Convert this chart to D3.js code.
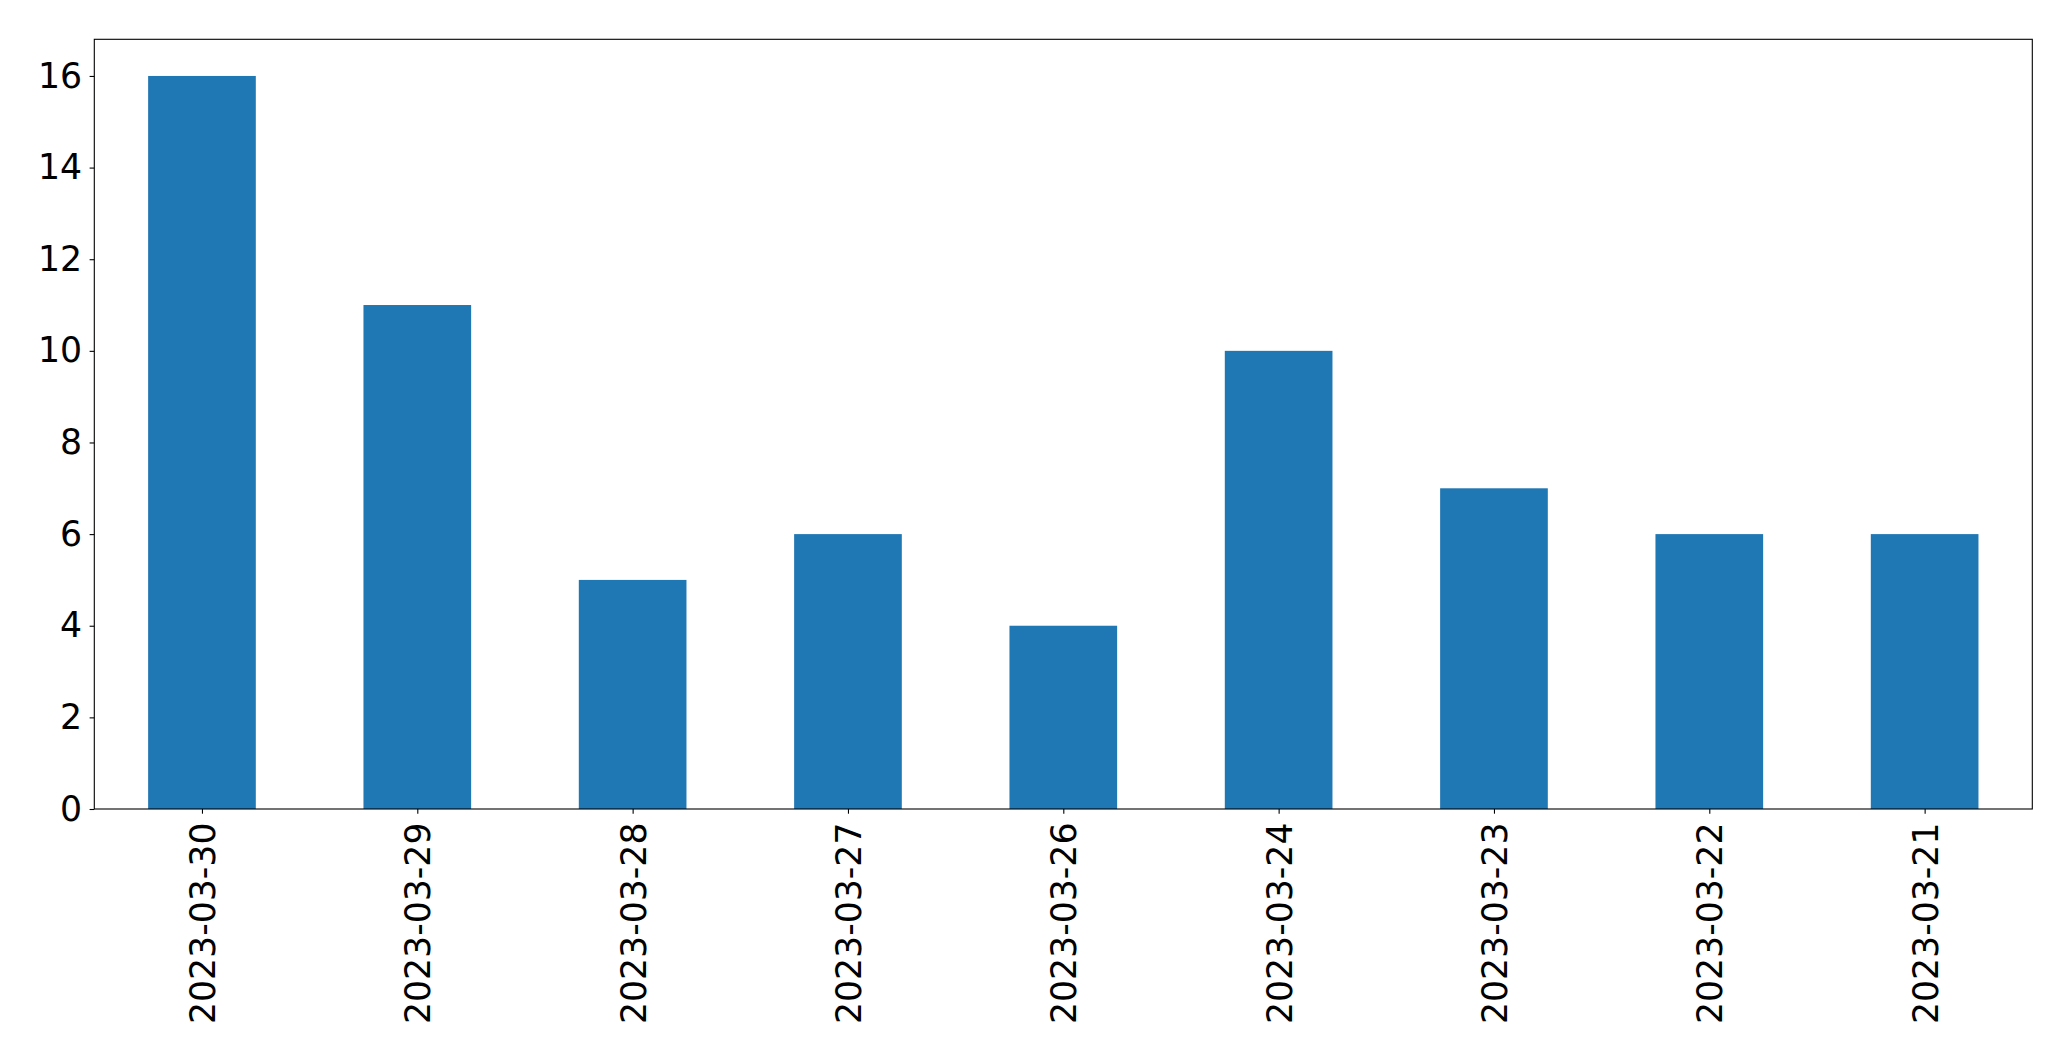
<!DOCTYPE html>
<html>
<head>
<meta charset="utf-8">
<script src="https://cdn.jsdelivr.net/npm/d3@7"></script>
<style>
html,body{margin:0;padding:0;background:#fff;}
svg{display:block;}
</style>
</head>
<body>
<script>
const categories = ["2023-03-30","2023-03-29","2023-03-28","2023-03-27","2023-03-26","2023-03-24","2023-03-23","2023-03-22","2023-03-21"];
const values = [16, 11, 5, 6, 4, 10, 7, 6, 6];
const yTicks = [0, 2, 4, 6, 8, 10, 12, 14, 16];

(function () {
const W = 2071, H = 1061;
const mLeft = 94.3, mRight = 2032.3, mTop = 39.3, mBottom = 809;
const fontSize = 34.7;

const svg = d3.select("body").append("svg").attr("width", W).attr("height", H);

const x = d3.scaleLinear().domain([-0.5, categories.length - 0.5]).range([mLeft, mRight]);
const y = d3.scaleLinear().domain([0, 16.8]).range([mBottom, mTop]);
const barW = 0.5;

svg.append("g").selectAll("rect").data(values).join("rect")
  .attr("x", (d, i) => x(i - barW / 2))
  .attr("width", (d, i) => x(i + barW / 2) - x(i - barW / 2))
  .attr("y", d => y(d))
  .attr("height", d => y(0) - y(d))
  .attr("fill", "#1f77b4");

// Y axis
const yAxis = d3.axisLeft(y).tickValues(yTicks).tickFormat(d3.format("d")).tickSize(4.7).tickPadding(7.5);
const gy = svg.append("g").attr("transform", `translate(${mLeft},0)`).call(yAxis);
gy.select(".domain").remove();
gy.selectAll(".tick line").attr("stroke", "#000").attr("stroke-width", 1.1);
gy.selectAll(".tick text").attr("font-family", "DejaVu Sans").attr("font-size", fontSize).attr("fill", "#000");

// X axis
const xAxis = d3.axisBottom(x).tickValues(d3.range(categories.length)).tickFormat(i => categories[i]).tickSize(4.7);
const gx = svg.append("g").attr("transform", `translate(0,${mBottom})`).call(xAxis);
gx.select(".domain").remove();
gx.selectAll(".tick line").attr("stroke", "#000").attr("stroke-width", 1.1);
gx.selectAll(".tick text")
  .attr("font-family", "DejaVu Sans").attr("font-size", fontSize).attr("fill", "#000")
  .attr("text-anchor", "end")
  .attr("transform", "rotate(-90)")
  .attr("x", -13.5)
  .attr("y", 0)
  .attr("dy", "0.36em");

// Frame
svg.append("rect")
  .attr("x", mLeft).attr("y", mTop)
  .attr("width", mRight - mLeft).attr("height", mBottom - mTop)
  .attr("fill", "none").attr("stroke", "#000").attr("stroke-width", 1.1);
})();
</script>
</body>
</html>
